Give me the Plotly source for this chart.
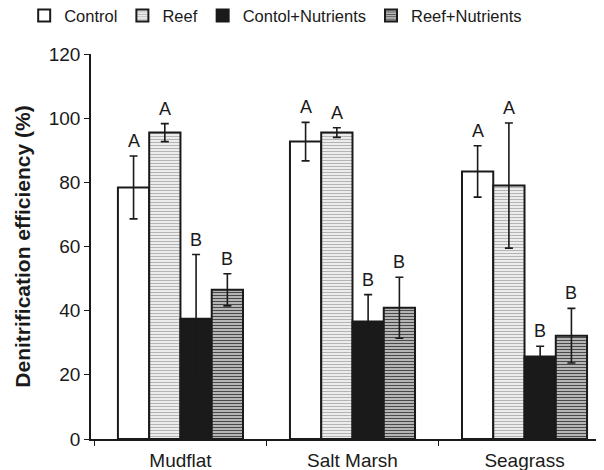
import plotly.graph_objects as go

categories = ["Mudflat", "Salt Marsh", "Seagrass"]
series_names = ["Control", "Reef", "Contol+Nutrients", "Reef+Nutrients"]
control = [78.4, 92.7, 83.4]
control_err = [9.8, 6.0, 8.0]
reef = [95.5, 95.5, 79.0]
reef_err = [2.8, 1.5, 19.5]
ctrl_nut = [37.5, 36.6, 25.7]
ctrl_nut_err = [20.0, 8.4, 3.2]
reef_nut = [46.5, 40.9, 32.2]
reef_nut_err = [5.0, 9.5, 8.5]
letters = [["A", "A", "A"], ["A", "A", "A"], ["B", "B", "B"], ["B", "B", "B"]]
y_ticks = [0, 20, 40, 60, 80, 100, 120]

values = [control, reef, ctrl_nut, reef_nut]
errors = [control_err, reef_err, ctrl_nut_err, reef_nut_err]

FONT = "Liberation Sans, Arial, sans-serif"
INK = "#1a1a1a"
styles = [
    dict(color="white", pattern=None),
    dict(color="white", pattern=dict(shape="-", fgcolor="#b4b4b4", bgcolor="white", size=3, solidity=0.5, fillmode="replace")),
    dict(color=INK, pattern=None),
    dict(color="white", pattern=dict(shape="-", fgcolor="#4a4a4a", bgcolor="#d8d8d8", size=3, solidity=0.5, fillmode="replace")),
]

fig = go.Figure()
for i, name in enumerate(series_names):
    marker = dict(color=styles[i]["color"], line=dict(color=INK, width=2))
    if styles[i]["pattern"] is not None:
        marker["pattern"] = styles[i]["pattern"]
    fig.add_trace(go.Bar(
        name=name, x=categories, y=values[i],
        marker=marker,
        error_y=dict(type="data", array=errors[i], visible=True, color=INK, thickness=1.6, width=4),
    ))

n = len(series_names)
bargap = 0.273
group_w = 1 - bargap
bw = group_w / n
for i in range(n):
    for j, cat in enumerate(categories):
        off = -group_w / 2 + bw * (i + 0.5)
        fig.add_annotation(
            x=j + off, y=values[i][j] + errors[i][j], xref="x", yref="y",
            text=letters[i][j], showarrow=False, yanchor="bottom", yshift=3,
            font=dict(family=FONT, size=18, color=INK),
        )

# page body has an 8px default margin, so the figure is drawn 8px smaller
fig.update_layout(
    width=596, height=462,
    margin=dict(l=83, r=0, t=46, b=31),
    paper_bgcolor="white", plot_bgcolor="white",
    barmode="group", bargap=bargap, bargroupgap=0,
    font=dict(family=FONT, size=19, color=INK),
    showlegend=True,
    legend=dict(orientation="h", x=0.36, y=0.983, xanchor="center", yanchor="middle",
                xref="paper", yref="container",
                font=dict(family=FONT, size=16.5), tracegroupgap=0,
                bgcolor="rgba(0,0,0,0)"),
    xaxis=dict(type="category", range=[-0.52, 2.462], showline=True, linecolor=INK, linewidth=1.5,
               ticks="outside", tickson="boundaries", ticklen=5, tickcolor=INK, tickwidth=1.2,
               showgrid=False, tickfont=dict(size=19), automargin=False, ticklabelstandoff=3),
    yaxis=dict(range=[0, 120], tickvals=y_ticks, showline=True, linecolor=INK, linewidth=1.5,
               ticks="outside", ticklen=5, tickcolor=INK, tickwidth=1.2, showgrid=False, zeroline=False,
               tickfont=dict(size=19), automargin=False,
               title=dict(text="<b>Denitrification efficiency (%)</b>", font=dict(size=21), standoff=12)),
)
fig.write_html("out.html")
